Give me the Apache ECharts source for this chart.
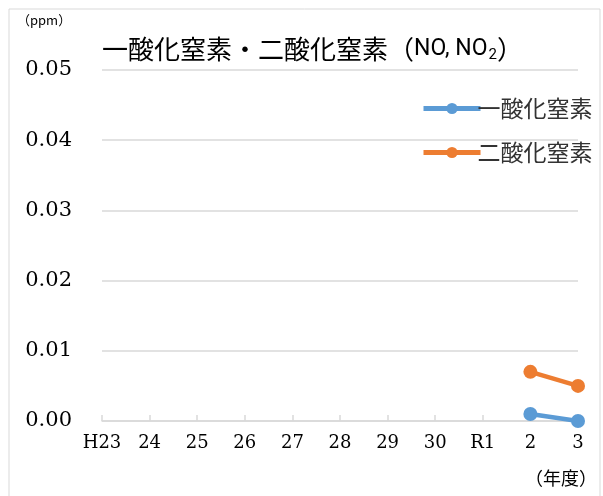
<!DOCTYPE html>
<html>
<head>
<meta charset="utf-8">
<script src="https://cdn.jsdelivr.net/npm/echarts@6/dist/echarts.min.js"></script>
<style>
  html, body { margin: 0; padding: 0; background: #fff; }
  #main { width: 603px; height: 496px; }
</style>
</head>
<body>
<div id="main"></div>
<script>
  // 年度
  const years = ['H23', '24', '25', '26', '27', '28', '29', '30', 'R1', '2', '3']
  // 一酸化窒素 (ppm)
  const noValues = [null, null, null, null, null, null, null, null, null, 0.001, 0.000]
  // 二酸化窒素 (ppm)
  const no2Values = [null, null, null, null, null, null, null, null, null, 0.007, 0.005]

  const chart = echarts.init(document.getElementById('main'))
  const jp = '"Noto Sans CJK JP", sans-serif'
  const latin = 'Roboto, "Noto Sans", sans-serif'
  const serif = '"DejaVu Serif", "Liberation Serif", serif'

  const option = {
    animation: false,
    title: {
      text: '一酸化窒素・二酸化窒素（{m|NO, NO}{sub|2}）',
      left: 97,
      top: 30,
      textStyle: {
        fontFamily: jp,
        fontSize: 26,
        fontWeight: 'normal',
        color: '#000',
        rich: {
          m: { fontFamily: latin, fontSize: 23, color: '#000' },
          sub: { fontFamily: latin, fontSize: 15, color: '#000', padding: [13, 0, 0, 1] }
        }
      }
    },
    legend: {
      orient: 'vertical',
      left: 416,
      top: 92,
      itemWidth: 57,
      itemHeight: 14,
      itemGap: 21,
      lineStyle: { width: 5 },
      textStyle: { fontFamily: jp, fontSize: 23, color: '#333', padding: [0, 0, 0, -8] },
      data: ['一酸化窒素', '二酸化窒素']
    },
    graphic: [
      { type: 'rect', shape: { x: 9, y: 9, width: 591, height: 495 }, style: { fill: 'none', stroke: '#d9d9d9', lineWidth: 1 } },
      { type: 'text', left: 17, top: 14, style: { text: '（ppm）', font: '13px ' + jp, fill: '#000' } },
      { type: 'text', left: 525, top: 469, style: { text: '（年度）', font: '18px ' + jp, fill: '#000' } }
    ],
    grid: { left: 102, right: 25, top: 70, bottom: 75 },
    xAxis: {
      type: 'category',
      data: years,
      boundaryGap: false,
      axisLine: { lineStyle: { color: '#d9d9d9', width: 1.5 } },
      axisTick: { show: true, interval: 0, length: 6, inside: true, lineStyle: { color: '#d9d9d9', width: 1.5 } },
      axisLabel: { interval: 0, hideOverlap: false, fontFamily: serif, fontSize: 18, color: '#000', margin: 13 },
      splitLine: { show: false }
    },
    yAxis: {
      type: 'value',
      min: 0,
      max: 0.05,
      interval: 0.01,
      axisLine: { show: false },
      axisTick: { show: false },
      axisLabel: {
        fontFamily: serif, fontSize: 21, color: '#000', margin: 30,
        formatter: v => v.toFixed(2)
      },
      splitLine: { lineStyle: { color: '#d9d9d9', width: 1.5 } }
    },
    series: [
      {
        name: '一酸化窒素',
        type: 'line',
        data: noValues,
        symbol: 'circle',
        symbolSize: 14,
        lineStyle: { width: 4.5, color: '#5b9bd5' },
        itemStyle: { color: '#5b9bd5' }
      },
      {
        name: '二酸化窒素',
        type: 'line',
        data: no2Values,
        symbol: 'circle',
        symbolSize: 14,
        lineStyle: { width: 4.5, color: '#ed7d31' },
        itemStyle: { color: '#ed7d31' }
      }
    ]
  }
  chart.setOption(option)
</script>
</body>
</html>
